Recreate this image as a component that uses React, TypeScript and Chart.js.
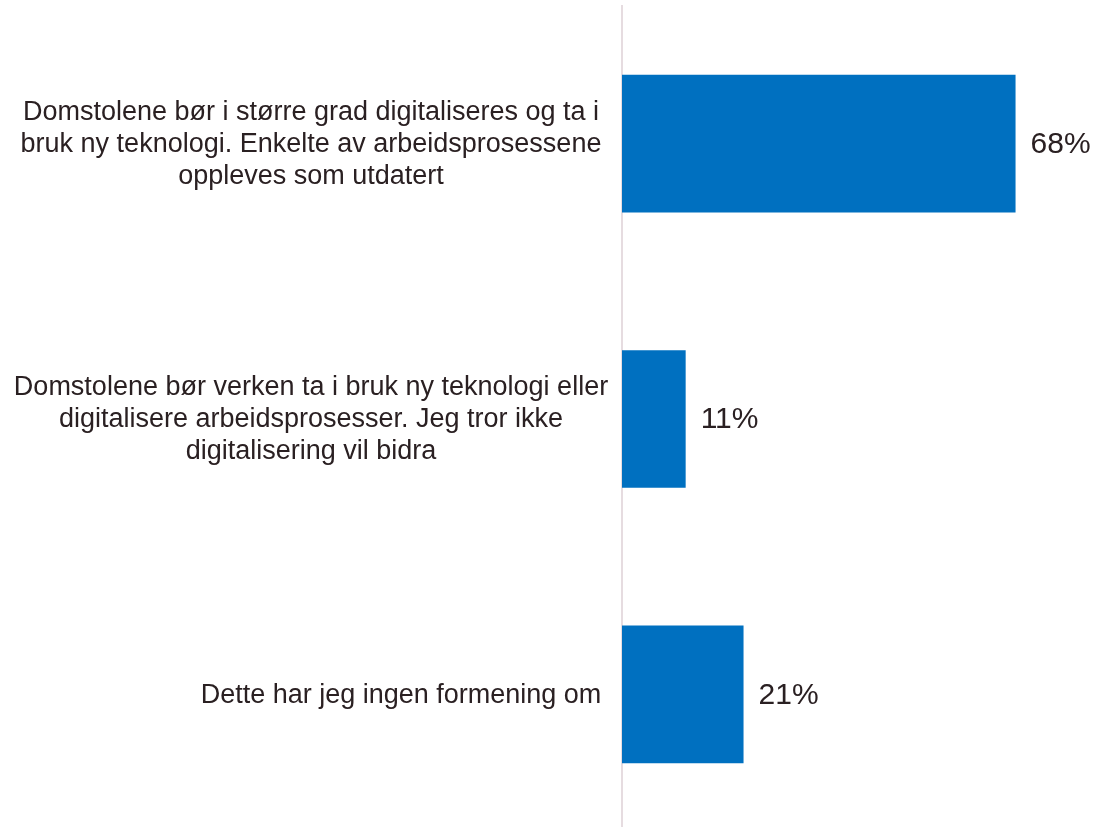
import React, { useEffect, useRef } from "react";
import { Chart, registerables } from "chart.js";

Chart.register(...registerables);

const categories: string[][] = [
  ["Domstolene bør i større grad digitaliseres og ta i", "bruk ny teknologi. Enkelte av arbeidsprosessene", "oppleves som utdatert"],
  ["Domstolene bør verken ta i bruk ny teknologi eller", "digitalisere arbeidsprosesser. Jeg tror ikke", "digitalisering vil bidra"],
  ["Dette har jeg ingen formening om"],
];
const values: number[] = [68, 11, 21];
const valueLabels: string[] = ["68%", "11%", "21%"];

const TEXT = "#2a2022";
const FONT = '"Liberation Sans", Arial, sans-serif';

export default function App() {
  const ref = useRef<HTMLCanvasElement | null>(null);
  useEffect(() => {
    if (!ref.current) return;
    const labelCenters = [311, 311, 401];
    const labelsPlugin = {
      id: "customLabels",
      afterDatasetsDraw(chart: any) {
        const { ctx } = chart;
        const y = chart.scales.y;
        const meta = chart.getDatasetMeta(0);
        ctx.save();
        ctx.fillStyle = TEXT;
        ctx.textAlign = "center";
        ctx.textBaseline = "middle";
        ctx.font = `27px ${FONT}`;
        const lh = 32;
        categories.forEach((lines, i) => {
          const cy = y.getPixelForValue(i) + 1;
          lines.forEach((ln, j) => {
            ctx.fillText(ln, labelCenters[i], cy + (j - (lines.length - 1) / 2) * lh);
          });
        });
        ctx.font = `30px ${FONT}`;
        ctx.textAlign = "left";
        meta.data.forEach((bar: any, i: number) => {
          ctx.fillText(valueLabels[i], bar.x + 15, bar.y + 1);
        });
        ctx.restore();
      },
    };
    const chart = new Chart(ref.current, {
      type: "bar",
      data: {
        labels: categories.map((c) => c.join(" ")),
        datasets: [
          {
            data: values,
            backgroundColor: "#0070c0",
            borderWidth: 0,
            barPercentage: 0.5,
            categoryPercentage: 1,
          },
        ],
      },
      options: {
        indexAxis: "y",
        animation: false,
        responsive: false,
        maintainAspectRatio: false,
        layout: { padding: { left: 622, right: 14, top: 6, bottom: 0 } },
        plugins: { legend: { display: false }, tooltip: { enabled: false } },
        scales: {
          x: {
            display: false,
            min: 0,
            max: 80,
          },
          y: {
            ticks: { display: false },
            grid: { display: false, drawTicks: false },
            border: { display: true, color: "#e6dce0", width: 2 },
          },
        },
      },
      plugins: [labelsPlugin],
    });
    return () => chart.destroy();
  }, []);
  return (
    <div style={{ position: "fixed", left: 0, top: 0, width: 1099, height: 827, overflow: "hidden", background: "#fff" }}>
      <canvas ref={ref} width={1099} height={832} style={{ display: "block" }} />
    </div>
  );
}
